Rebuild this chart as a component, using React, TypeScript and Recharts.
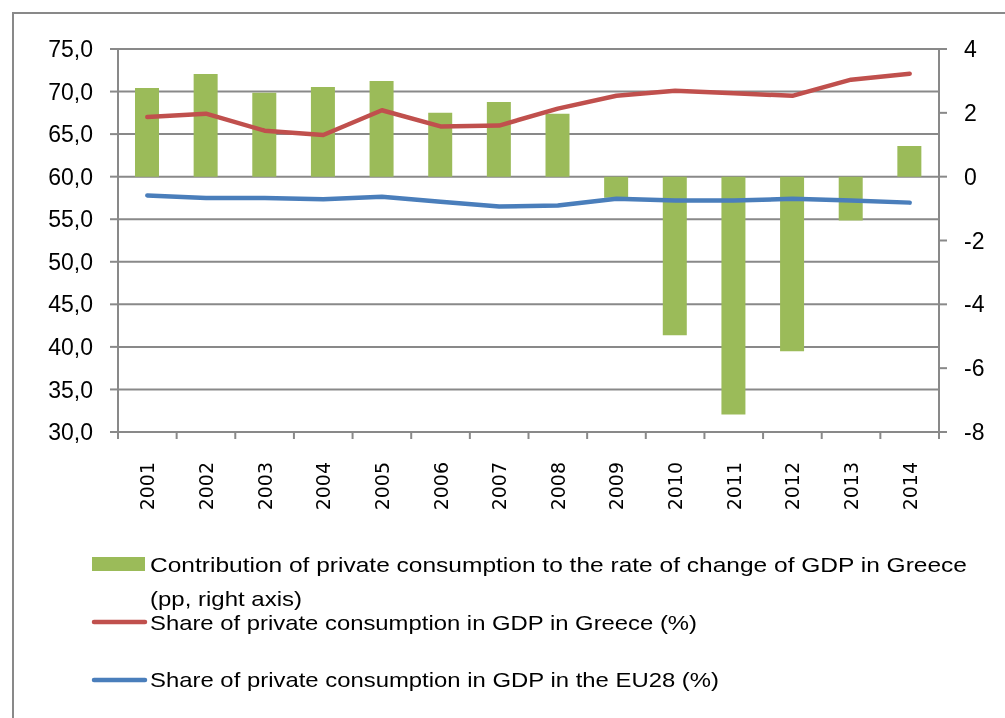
import React from 'react';
import { ComposedChart, Bar, Line, XAxis, YAxis, CartesianGrid, Legend } from 'recharts';

const years = ['2001', '2002', '2003', '2004', '2005', '2006', '2007', '2008', '2009', '2010', '2011', '2012', '2013', '2014'];
const contribution = [2.78, 3.22, 2.63, 2.81, 3.0, 2.0, 2.34, 1.97, -0.66, -4.97, -7.45, -5.47, -1.37, 0.96];
const greeceShare = [67.0, 67.4, 65.4, 64.9, 67.8, 65.9, 66.0, 68.0, 69.5, 70.1, 69.8, 69.5, 71.4, 72.1];
const euShare = [57.8, 57.5, 57.5, 57.35, 57.65, 57.05, 56.5, 56.6, 57.4, 57.2, 57.2, 57.4, 57.2, 56.95];
const leftTicks = [30, 35, 40, 45, 50, 55, 60, 65, 70, 75];
const rightTicks = [-8, -6, -4, -2, 0, 2, 4];
const barLabelLine1 = 'Contribution of private consumption to the rate of change of GDP in Greece';
const barLabelLine2 = '(pp, right axis)';
const greeceLabel = 'Share of private consumption in GDP in Greece (%)';
const euLabel = 'Share of private consumption in GDP in the EU28 (%)';

const GREEN = '#9BBB59';
const RED = '#C0504D';
const BLUE = '#4A7EBB';
const GRAY = '#898989';
const AXIS_FONT = '"Liberation Sans", Arial, sans-serif';

const data = years.map((y, i) => ({
  year: y,
  contribution: contribution[i],
  greece: greeceShare[i],
  eu: euShare[i],
}));

function XTick(props: any) {
  const { x, y, payload, index, width, visibleTicksCount } = props;
  const count = visibleTicksCount || years.length;
  const step = width ? width / count : 58.6;
  const ty = y + 30;
  return (
    <g>
      <line x1={x - step / 2} x2={x - step / 2} y1={y} y2={y + 7} stroke={GRAY} strokeWidth={2} />
      {index === count - 1 && (
        <line x1={x + step / 2} x2={x + step / 2} y1={y} y2={y + 7} stroke={GRAY} strokeWidth={2} />
      )}
      <text
        x={x}
        y={ty}
        transform={`rotate(-90, ${x}, ${ty})`}
        textAnchor="end"
        dominantBaseline="central"
        fontFamily='"DejaVu Sans", sans-serif'
        fontSize={19}
        fill="#000"
      >
        {payload.value}
      </text>
    </g>
  );
}

function LegendContent() {
  const font = '"Liberation Sans", Arial, sans-serif';
  return (
    <svg width={997} height={702} style={{ position: 'absolute', left: 0, top: 0 }}>
      <rect x={84} y={549} width={53} height={14} fill={GREEN} />
      <text x={142} y={564} fontFamily={font} fontSize={21} fill="#000" textLength={817} lengthAdjust="spacingAndGlyphs">
        {barLabelLine1}
      </text>
      <text x={142} y={598} fontFamily={font} fontSize={21} fill="#000" textLength={152} lengthAdjust="spacingAndGlyphs">
        {barLabelLine2}
      </text>
      <line x1={86} x2={137} y1={614} y2={614} stroke={RED} strokeWidth={4.5} strokeLinecap="round" />
      <text x={142} y={622} fontFamily={font} fontSize={21} fill="#000" textLength={547} lengthAdjust="spacingAndGlyphs">
        {greeceLabel}
      </text>
      <line x1={86} x2={137} y1={672} y2={672} stroke={BLUE} strokeWidth={4.5} strokeLinecap="round" />
      <text x={142} y={679} fontFamily={font} fontSize={21} fill="#000" textLength={569} lengthAdjust="spacingAndGlyphs">
        {euLabel}
      </text>
    </svg>
  );
}

export default function App() {
  return (
    <div style={{ position: 'relative', width: 997, height: 702 }}>
      <div
        style={{
          position: 'fixed',
          left: 12,
          top: 12,
          width: 993,
          height: 706,
          boxSizing: 'border-box',
          borderLeft: `2px solid ${GRAY}`,
          borderTop: `2px solid ${GRAY}`,
          pointerEvents: 'none',
        }}
      />
      <ComposedChart
        width={997}
        height={702}
        data={data}
        margin={{ top: 41, right: 0, bottom: 188, left: 0 }}
        barSize={24}
      >
        <CartesianGrid yAxisId="left" vertical={false} stroke={GRAY} strokeWidth={2} />
        <XAxis
          dataKey="year"
          height={90}
          interval={0}
          tickLine={false}
          tickSize={0}
          tickMargin={0}
          axisLine={{ stroke: GRAY, strokeWidth: 2 }}
          tick={<XTick />}
        />
        <YAxis
          yAxisId="left"
          orientation="left"
          width={110}
          domain={[30, 75]}
          ticks={leftTicks}
          interval={0}
          tickSize={8}
          tickMargin={17}
          tickLine={{ stroke: GRAY, strokeWidth: 2 }}
          axisLine={{ stroke: GRAY, strokeWidth: 2 }}
          tickFormatter={(v: number) => v.toFixed(1).replace('.', ',')}
          tick={{ fill: '#000', fontSize: 23, fontFamily: AXIS_FONT }}
          allowDataOverflow
        />
        <YAxis
          yAxisId="right"
          orientation="right"
          width={66}
          domain={[-8, 4]}
          ticks={rightTicks}
          interval={0}
          tickSize={8}
          tickMargin={17}
          tickLine={{ stroke: GRAY, strokeWidth: 2 }}
          axisLine={{ stroke: GRAY, strokeWidth: 2 }}
          tick={{ fill: '#000', fontSize: 23, fontFamily: AXIS_FONT }}
          allowDataOverflow
        />
        <Bar
          yAxisId="right"
          dataKey="contribution"
          name={`${barLabelLine1} ${barLabelLine2}`}
          fill={GREEN}
          isAnimationActive={false}
        />
        <Line
          yAxisId="left"
          type="linear"
          dataKey="greece"
          name={greeceLabel}
          stroke={RED}
          strokeWidth={4.5}
          strokeLinecap="round"
          strokeLinejoin="round"
          dot={false}
          activeDot={false}
          isAnimationActive={false}
        />
        <Line
          yAxisId="left"
          type="linear"
          dataKey="eu"
          name={euLabel}
          stroke={BLUE}
          strokeWidth={4.5}
          strokeLinecap="round"
          strokeLinejoin="round"
          dot={false}
          activeDot={false}
          isAnimationActive={false}
        />
        <Legend
          layout="vertical"
          align="center"
          verticalAlign="middle"
          wrapperStyle={{ position: 'absolute', left: 0, top: 0, width: 997, height: 702, pointerEvents: 'none' }}
          content={() => <LegendContent />}
        />
      </ComposedChart>
    </div>
  );
}
